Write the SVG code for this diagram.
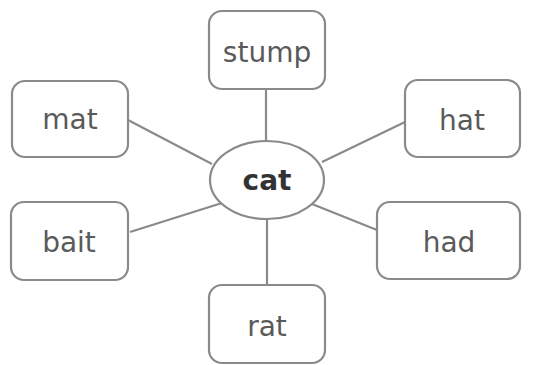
<svg xmlns="http://www.w3.org/2000/svg" width="545" height="365" viewBox="0 0 545 365">
<style>
.box{fill:#fff;stroke:#8a8a8a;stroke-width:2.2}
.lbl{font-family:"DejaVu Sans","Liberation Sans",sans-serif;font-size:28px;fill:#5a5a5a;text-anchor:middle}
.c{stroke:#8a8a8a;stroke-width:2.2;fill:none}
</style>
<rect width="545" height="365" fill="#fff"/>
<g id="connectors">
<line class="c" x1="266" y1="89" x2="266" y2="141"/>
<line class="c" x1="128" y1="120" x2="212" y2="164"/>
<line class="c" x1="405" y1="122" x2="322" y2="162"/>
<line class="c" x1="130" y1="232" x2="222" y2="203"/>
<line class="c" x1="312" y1="204" x2="377" y2="230"/>
<line class="c" x1="267" y1="218" x2="267" y2="285"/>
</g>
<g id="stump"><rect class="box" x="209" y="11" width="116" height="78" rx="13"/><text class="lbl" x="267" y="62">stump</text></g>
<g id="mat"><rect class="box" x="12" y="81" width="116" height="76" rx="13"/><text class="lbl" x="70" y="129">mat</text></g>
<g id="hat"><rect class="box" x="405" y="80" width="115" height="77" rx="13"/><text class="lbl" x="462" y="130">hat</text></g>
<g id="cat"><ellipse class="box" cx="267" cy="180" rx="57" ry="39"/><text class="lbl" x="267" y="190" style="font-weight:bold;fill:#333">cat</text></g>
<g id="bait"><rect class="box" x="11" y="202" width="117" height="78" rx="13"/><text class="lbl" x="69" y="252">bait</text></g>
<g id="had"><rect class="box" x="377" y="202" width="143" height="77" rx="13"/><text class="lbl" x="449" y="252">had</text></g>
<g id="rat"><rect class="box" x="209" y="285" width="116" height="78" rx="13"/><text class="lbl" x="267" y="336">rat</text></g>
</svg>
